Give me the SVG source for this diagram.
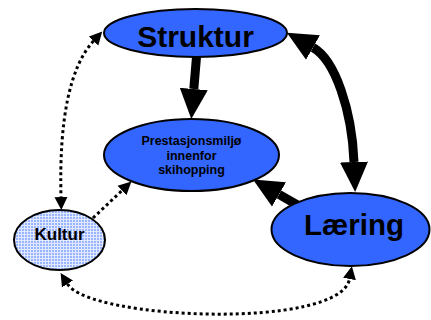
<svg xmlns="http://www.w3.org/2000/svg" width="431" height="320" viewBox="0 0 431 320">
<style>
.node{fill:#3366ff;stroke:#000;stroke-width:2}
.lbl{font-family:"Liberation Sans",Arial,sans-serif;font-weight:bold;fill:#000;text-anchor:middle}
.thick{fill:none;stroke:#000;stroke-width:9}
.dot{fill:none;stroke:#000;stroke-width:3;stroke-dasharray:3 3}
</style>
<defs>
<pattern id="grid" width="3" height="3" patternUnits="userSpaceOnUse">
<rect width="3" height="3" fill="#9ab4ff"/>
<path d="M0 0.5H3M0.5 0V3" stroke="#ffffff" stroke-width="1" opacity="0.7"/>
</pattern>
<marker id="big" markerUnits="userSpaceOnUse" markerWidth="32" markerHeight="30" refX="0" refY="14" orient="auto-start-reverse" viewBox="0 0 32 28">
<path d="M0 0L30 14L0 28Z" fill="#000"/>
</marker>
<marker id="small" markerUnits="userSpaceOnUse" markerWidth="14" markerHeight="14" refX="0" refY="6.5" orient="auto-start-reverse" viewBox="0 0 14 13">
<path d="M0 0L13 6.5L0 13Z" fill="#000"/>
</marker>
</defs>
<g id="connectors">
<path class="thick" d="M196.5 57L193.8 89" marker-end="url(#big)"/>
<path class="thick" d="M300 206.5L279 194.4" marker-end="url(#big)"/>
<path class="thick" d="M313 47.5C335 60 352 110 354 162" marker-start="url(#big)" marker-end="url(#big)"/>
<path class="dot" d="M93.5 41Q58 80 61 197" marker-start="url(#small)" marker-end="url(#small)"/>
<path class="dot" d="M93 218L122 190.5" marker-end="url(#small)"/>
<path class="dot" d="M67.5 284C90 320 340 330 349.5 279" marker-start="url(#small)" marker-end="url(#small)"/>
</g>
<g id="struktur">
<ellipse class="node" cx="195.5" cy="33" rx="91.5" ry="24"/>
<text class="lbl" x="195.5" y="46.5" font-size="30">Struktur</text>
</g>
<g id="prestasjonsmiljo">
<ellipse class="node" cx="191.5" cy="155" rx="87.5" ry="36"/>
<text class="lbl" x="191.5" y="145" font-size="12.5">Prestasjonsmiljø</text>
<text class="lbl" x="191.5" y="159.5" font-size="12.5">innenfor</text>
<text class="lbl" x="191.5" y="174" font-size="12.5">skihopping</text>
</g>
<g id="kultur">
<ellipse cx="59.5" cy="240" rx="45.5" ry="30" fill="url(#grid)" stroke="#000" stroke-width="2"/>
<text class="lbl" x="59.5" y="239.5" font-size="17">Kultur</text>
</g>
<g id="laering">
<ellipse class="node" cx="350.5" cy="229.5" rx="79" ry="36.5"/>
<text class="lbl" x="354" y="235" font-size="29.5">Læring</text>
</g>
</svg>
